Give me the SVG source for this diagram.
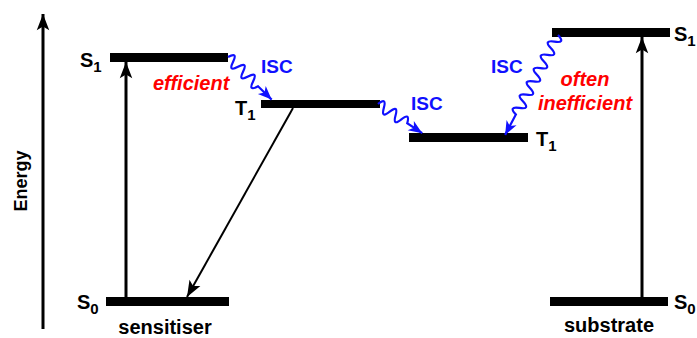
<svg xmlns="http://www.w3.org/2000/svg" width="697" height="338" viewBox="0 0 697 338">
<style>
.lbl{font-family:"Liberation Sans",Arial,sans-serif;font-weight:bold;font-size:20px;fill:#000}
.sub{font-size:15px}
.isc{font-family:"Liberation Sans",Arial,sans-serif;font-weight:bold;font-size:19px;fill:#1010ff}
.red{font-family:"Liberation Sans",Arial,sans-serif;font-weight:bold;font-style:italic;font-size:20px;fill:#ff0000}
.bar{fill:#000}
.blk{stroke:#000;fill:none}
.wav{stroke:#1010ff;stroke-width:2.2;fill:none}
</style>
<defs>
<marker id="ah" markerUnits="userSpaceOnUse" markerWidth="20" markerHeight="20" refX="0" refY="0" viewBox="-14 -7 16 14" orient="auto" overflow="visible">
<path d="M0,0 L-13,-5 L-10,0 L-13,5 Z" fill="#000"/>
</marker>
<marker id="ahb" markerUnits="userSpaceOnUse" markerWidth="20" markerHeight="20" refX="0" refY="0" viewBox="-14 -7 16 14" orient="auto" overflow="visible">
<path d="M0,0 L-11,-4.5 L-8,0 L-11,4.5 Z" fill="#1010ff"/>
</marker>
</defs>

<g id="axis">
<line class="blk" x1="43" y1="329" x2="43" y2="14" stroke-width="3" marker-end="url(#ah)"/>
<text class="lbl" transform="translate(27,181) rotate(-90)" text-anchor="middle" style="font-size:18px">Energy</text>
</g>

<g id="sens-S1"><rect class="bar" x="110" y="53" width="118" height="9"/><text class="lbl" x="80" y="67">S<tspan class="sub" dy="5">1</tspan></text></g>
<g id="sens-T1"><rect class="bar" x="261" y="100" width="119" height="8"/><text class="lbl" x="235" y="115">T<tspan class="sub" dy="5">1</tspan></text></g>
<g id="sens-S0"><rect class="bar" x="106" y="297" width="123" height="9"/><text class="lbl" x="77" y="309">S<tspan class="sub" dy="5">0</tspan></text></g>
<g id="sub-T1"><rect class="bar" x="409" y="133" width="119" height="9"/><text class="lbl" x="536" y="146">T<tspan class="sub" dy="5">1</tspan></text></g>
<g id="sub-S1"><rect class="bar" x="552" y="28" width="118" height="9"/><text class="lbl" x="674" y="41">S<tspan class="sub" dy="5">1</tspan></text></g>
<g id="sub-S0"><rect class="bar" x="550" y="297" width="118" height="9"/><text class="lbl" x="674" y="309">S<tspan class="sub" dy="5">0</tspan></text></g>

<g id="labels">
<text class="lbl" x="165" y="334" text-anchor="middle">sensitiser</text>
<text class="lbl" x="609" y="332" text-anchor="middle">substrate</text>
<text class="red" x="153" y="90">efficient</text>
<text class="red" x="585" y="86" text-anchor="middle">often</text>
<text class="red" x="585" y="110" text-anchor="middle">inefficient</text>
<text class="isc" x="261" y="73">ISC</text>
<text class="isc" x="411" y="110">ISC</text>
<text class="isc" x="491" y="73">ISC</text>
</g>

<g id="connectors">
<line class="blk" x1="126" y1="297" x2="126" y2="62" stroke-width="3" marker-end="url(#ah)"/>
<line class="blk" x1="293" y1="108" x2="187" y2="297" stroke-width="2" marker-end="url(#ah)"/>
<line class="blk" x1="642" y1="297" x2="642" y2="37" stroke-width="3" marker-end="url(#ah)"/>
<g transform="translate(228,57) rotate(44.3)">
<path class="wav" d="M0,0 q3.5,-11 7,0 t7,0 t7,0 t7,0 t7,0 t7,0 L61,0" marker-end="url(#ahb)"/>
</g>
<g transform="translate(378,104) rotate(33.4)">
<path class="wav" d="M0,0 q3.5,-11 7,0 t7,0 t7,0 t7,0 t7,0 L53,0" marker-end="url(#ahb)"/>
</g>
<g transform="translate(558,35) rotate(117.9)">
<path class="wav" d="M0,0 q3.75,-11 7.5,0 t7.5,0 t7.5,0 t7.5,0 t7.5,0 t7.5,0 t7.5,0 t7.5,0 t7.5,0 t7.5,0 t7.5,0 t7.5,0 L113,0" marker-end="url(#ahb)"/>
</g>
</g>
</svg>
